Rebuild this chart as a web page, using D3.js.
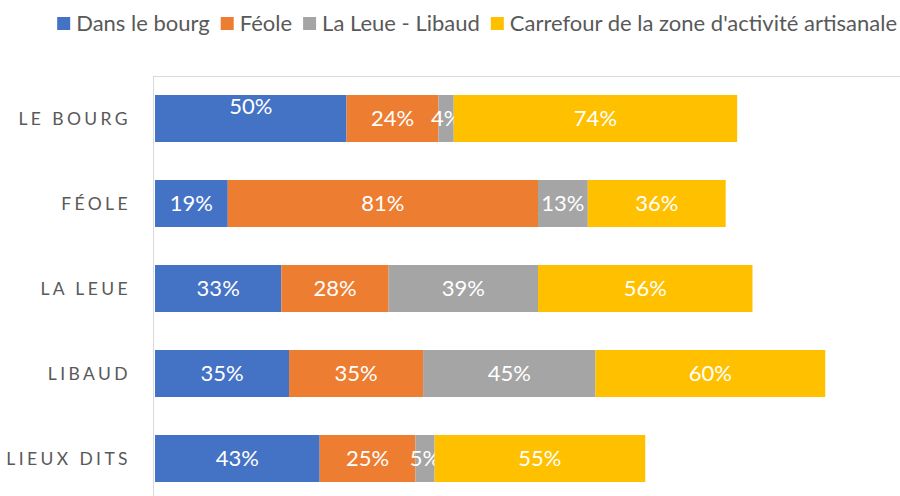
<!DOCTYPE html>
<html>
<head>
<meta charset="utf-8">
<script src="https://cdn.jsdelivr.net/npm/d3@7"></script>
<style>
  body { margin: 0; background: #fff; }
  svg { font-family: Lato, "Open Sans", sans-serif; }
</style>
</head>
<body>
<script>
const categories = ['LE BOURG', 'FÉOLE', 'LA LEUE', 'LIBAUD', 'LIEUX DITS'];
const seriesNames = ['Dans le bourg', 'Féole', 'La Leue - Libaud', "Carrefour de la zone d'activité artisanale"];
const dansLeBourg = [50, 19, 33, 35, 43];
const feole = [24, 81, 28, 35, 25];
const laLeueLibaud = [4, 13, 39, 45, 5];
const carrefour = [74, 36, 56, 60, 55];
const colors = ['#4472C4', '#ED7D31', '#A5A5A5', '#FFC000'];

const width = 900, height = 496;
const margin = { top: 76, left: 154, right: 0, bottom: -5 };

const svg = d3.select('body').append('svg')
  .attr('width', width)
  .attr('height', height);

const rows = categories.map((c, i) => ({
  cat: c,
  v: [dansLeBourg[i], feole[i], laLeueLibaud[i], carrefour[i]]
}));

const x = d3.scaleLinear()
  .domain([0, 185])
  .range([margin.left + 1, margin.left + 1 + 185 * 3.83]);

const y = d3.scaleBand()
  .domain(categories)
  .range([margin.top, height - margin.bottom])
  .paddingInner(0.447)
  .paddingOuter(0.2235);

// plot frame: top line and left axis
svg.append('line')
  .attr('x1', margin.left - 1).attr('x2', width)
  .attr('y1', margin.top + 0.5).attr('y2', margin.top + 0.5)
  .attr('stroke', '#d9d9d9');
svg.append('line')
  .attr('x1', margin.left - 0.5).attr('x2', margin.left - 0.5)
  .attr('y1', margin.top).attr('y2', height)
  .attr('stroke', '#d9d9d9');

const stacked = d3.stack().keys([0, 1, 2, 3]).value((d, k) => d.v[k])(rows);

const layer = svg.selectAll('.layer')
  .data(stacked)
  .enter().append('g')
    .attr('class', 'layer')
    .attr('fill', (d, i) => colors[i]);

layer.selectAll('rect')
  .data((d) => d)
  .enter().append('rect')
    .attr('x', (d) => x(d[0]))
    .attr('y', (d) => y(d.data.cat))
    .attr('width', (d) => x(d[1]) - x(d[0]))
    .attr('height', y.bandwidth());

layer.selectAll('text')
  .data((d) => d)
  .enter().append('text')
    .attr('x', (d) => (x(d[0]) + x(d[1])) / 2)
    .attr('y', (d) => y(d.data.cat) + y.bandwidth() / 2 + ((d[0] === 0 && d.data.cat === 'LE BOURG') ? -12 : 0))
    .attr('dy', '0.36em')
    .attr('text-anchor', 'middle')
    .attr('fill', '#fff')
    .attr('font-size', 22)
    .text((d) => (d[1] - d[0]) + '%');

// category labels
svg.selectAll('.cat')
  .data(categories)
  .enter().append('text')
    .attr('class', 'cat')
    .attr('x', 131)
    .attr('y', (d) => y(d) + y.bandwidth() / 2)
    .attr('dy', '0.36em')
    .attr('text-anchor', 'end')
    .attr('fill', '#595959')
    .attr('font-size', 17.5)
    .attr('letter-spacing', 3.4)
    .text((d) => d);

// legend, right-aligned so it ends where the reference does
const legend = svg.append('g').attr('font-size', 22);
const items = seriesNames.map((name, i) => {
  const g = legend.append('g');
  g.append('rect')
    .attr('y', 17)
    .attr('width', 13).attr('height', 13)
    .attr('fill', colors[i]);
  const t = g.append('text')
    .attr('x', 19).attr('y', 31)
    .attr('fill', '#595959')
    .text(name);
  return { g, w: 19 + t.node().getComputedTextLength() };
});
const gap = 11;
const total = d3.sum(items, (d) => d.w) + gap * (items.length - 1);
let lx = 897 - total;
items.forEach((it) => {
  it.g.attr('transform', `translate(${lx},0)`);
  lx += it.w + gap;
});
</script>
</body>
</html>
